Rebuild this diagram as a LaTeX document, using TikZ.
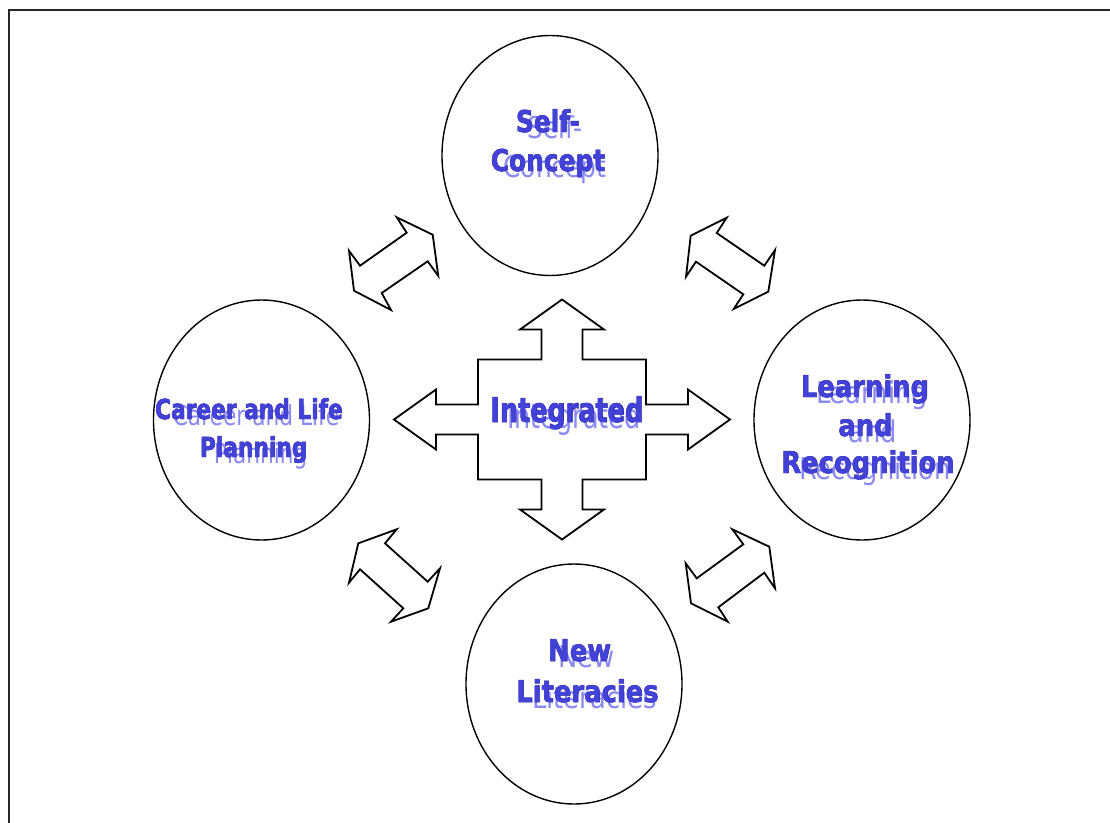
\documentclass[tikz,border=0pt]{standalone}
\usepackage{fontspec}
\setmainfont{DejaVu Sans}
\newfontfamily\edgefont[FakeBold=1.6]{DejaVu Sans Bold}
\usetikzlibrary{shapes.geometric}

\definecolor{labblue}{RGB}{66,66,216}
\definecolor{labedge}{RGB}{40,40,168}
\definecolor{labshade}{RGB}{138,138,242}

\tikzset{
  bubble/.style={draw=black, line width=1.4pt, ellipse, minimum width=216pt, minimum height=240pt, inner sep=0pt},
  arrowshape/.style={draw=black, line width=1.8pt, fill=white, line join=miter},
  lab/.style={inner sep=0pt, anchor=base},
  labmain/.style={lab, text=labblue},
  labrim/.style={lab, text=labedge},
  labshade/.style={lab, text=labshade, xshift=7pt, yshift=-6pt},
}

% #1 name, #2 x, #3 baseline y, #4 size, #5 horizontal scale, #6 text
\newcommand\twotone[6]{%
  \node[labshade, font=\fontsize{#4}{#4}\selectfont] (#1s) at (#2,#3) {\scalebox{#5}[1]{#6}};
  \node[labrim, font=\fontsize{#4}{#4}\selectfont\edgefont] (#1r) at (#2,#3) {\scalebox{#5}[1]{#6}};
  \node[labmain, font=\fontsize{#4}{#4}\selectfont\bfseries] (#1) at (#2,#3) {\scalebox{#5}[1]{#6}};
}

\begin{document}
\begin{tikzpicture}[x=1pt, y=-1pt]
\useasboundingbox (0,0) rectangle (1110,822);
\fill[white] (0,0) rectangle (1110,822);

% outer frame
\draw[line width=2pt, black!85] (9,830) -- (9,10) -- (1120,10);

% the four bubbles
\node[bubble] (self)  at (550,155.5) {};
\node[bubble] (career) at (261.5,420) {};
\node[bubble] (learn) at (862,420) {};
\node[bubble] (lit)   at (574,684) {};

% central four-way arrow
\draw[arrowshape] (562,299.5) -- (604,329.5) -- (582.5,329.5) -- (582.5,359.5) -- (646,359.5)
  -- (646,404.5) -- (688,404.5) -- (688,389.5) -- (730,419.5) -- (688,449.5) -- (688,434.5)
  -- (646,434.5) -- (646,479.5) -- (582.5,479.5) -- (582.5,509.5) -- (604,509.5) -- (562,539.5)
  -- (520,509.5) -- (541.5,509.5) -- (541.5,479.5) -- (478,479.5) -- (478,434.5) -- (436,434.5)
  -- (436,449.5) -- (394,419.5) -- (436,389.5) -- (436,404.5) -- (478,404.5) -- (478,359.5)
  -- (541.5,359.5) -- (541.5,329.5) -- (520,329.5) -- cycle;

% diagonal double arrows between neighbouring bubbles
\draw[arrowshape] (396.7,217.3) -- (432.7,234.7) -- (438.3,276) -- (427.7,261.3) -- (381.7,293)
  -- (391,310) -- (354,290.7) -- (349,250.7) -- (360,265.7) -- (406.7,232.7) -- cycle;
\draw[arrowshape] (726.7,217.7) -- (690.7,235.7) -- (686,276.7) -- (696,261.7) -- (743.3,294.3)
  -- (733.7,309) -- (768.3,291.7) -- (775,250) -- (764.3,265.7) -- (716.7,233) -- cycle;
\draw[arrowshape] (396.7,529.3) -- (358.3,543.3) -- (349,582.7) -- (360,569.3) -- (403.3,608.3)
  -- (391,621.7) -- (428.3,608.3) -- (440,568.3) -- (427.7,581.7) -- (385,543.3) -- cycle;
\draw[arrowshape] (732.3,529.3) -- (743.3,544.3) -- (696.7,578.3) -- (685.7,563.3) -- (691,603.3)
  -- (727.7,621.7) -- (718.3,607.3) -- (764.3,572.7) -- (775,588.3) -- (769.3,546.7) -- cycle;

% labels
\twotone{tself}{548}{132}{30}{0.83}{Self-}
\twotone{tconcept}{548}{171}{30}{0.83}{Concept}
\twotone{tcareer}{249}{419}{27.5}{0.79}{Career and Life}
\twotone{tplanning}{253.7}{457}{27.5}{0.79}{Planning}
\twotone{tlearning}{865}{397}{30}{0.86}{Learning}
\twotone{tand}{865.5}{436}{30}{0.86}{and}
\twotone{trecog}{868}{473}{30}{0.86}{Recognition}
\twotone{tnew}{579.7}{661}{30}{0.86}{New}
\twotone{tliter}{587.5}{702}{30}{0.86}{Literacies}
\twotone{tinteg}{567}{422}{34}{0.75}{Integrated}
\end{tikzpicture}
\end{document}
